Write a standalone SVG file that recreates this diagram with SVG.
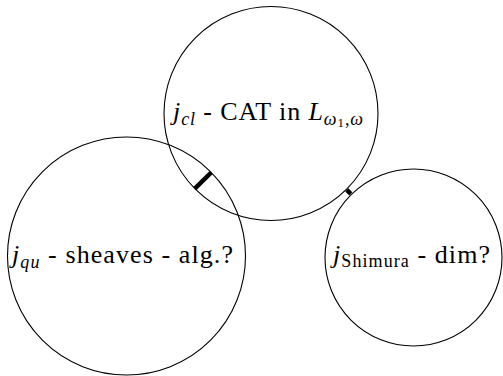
<svg xmlns="http://www.w3.org/2000/svg" width="503" height="376" viewBox="0 0 503 376">
<style>
.node{fill:none;stroke:#000;stroke-width:1.1}
.edge{stroke:#000;stroke-width:4.5;stroke-linecap:butt;fill:none}
.lbl{font-family:"Liberation Serif","Times New Roman",serif;font-size:26px;fill:#000}
.it{font-style:italic}
.sub{font-size:18px}
.sub2{font-size:13px}
</style>
<rect width="503" height="376" fill="#fff"/>
<g id="connectors">
<line class="edge" x1="211.2" y1="172.5" x2="194.8" y2="188.6"/>
<line class="edge" x1="346.8" y1="189.9" x2="350.8" y2="193.9"/>
</g>
<g id="node-cl">
<circle class="node" cx="271" cy="113.5" r="107"/>
<text class="lbl" x="173" y="120" textLength="190" lengthAdjust="spacing"><tspan class="it">j</tspan><tspan class="sub it" dy="5">cl</tspan><tspan dy="-5"> - CAT in </tspan><tspan class="it">L</tspan><tspan class="sub it" dy="5">ω</tspan><tspan class="sub2" dy="2">1</tspan><tspan class="sub" dy="-2">,</tspan><tspan class="sub it">ω</tspan></text>
</g>
<g id="node-qu">
<circle class="node" cx="126.5" cy="256" r="119"/>
<text class="lbl" x="12" y="263" textLength="221" lengthAdjust="spacing"><tspan class="it">j</tspan><tspan class="sub it" dy="5">qu</tspan><tspan dy="-5"> - sheaves - alg.?</tspan></text>
</g>
<g id="node-shimura">
<circle class="node" cx="413.5" cy="257.5" r="88.5"/>
<text class="lbl" x="333" y="263" textLength="157" lengthAdjust="spacing"><tspan class="it">j</tspan><tspan class="sub" dy="4">Shimura</tspan><tspan dy="-4"> - dim?</tspan></text>
</g>
</svg>
